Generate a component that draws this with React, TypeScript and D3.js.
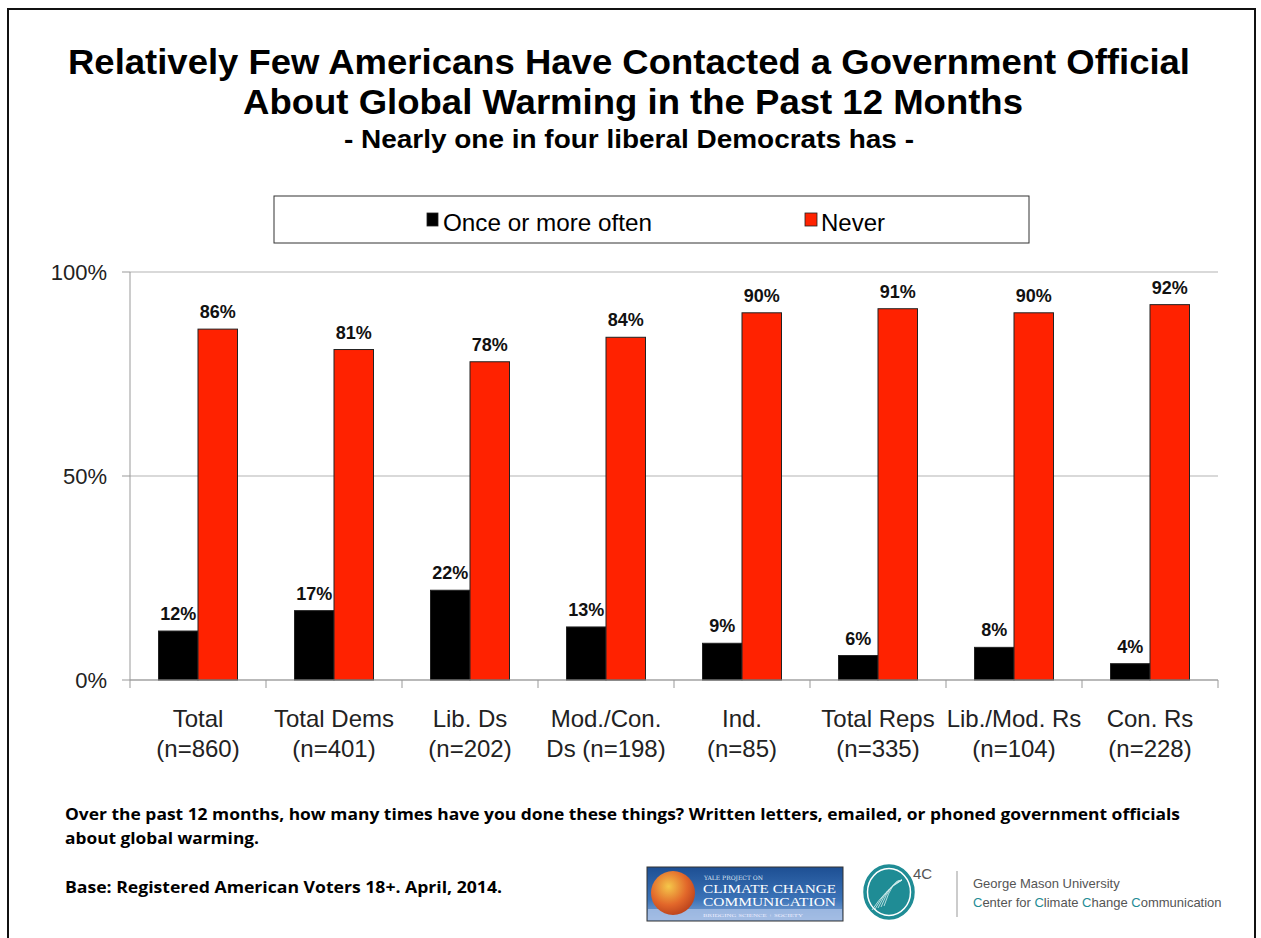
import React from "react";
import * as d3 from "d3";

const categories = ["Total", "Total Dems", "Lib. Ds", "Mod./Con.", "Ind.", "Total Reps", "Lib./Mod. Rs", "Con. Rs"];
const categorySub = ["(n=860)", "(n=401)", "(n=202)", "Ds (n=198)", "(n=85)", "(n=335)", "(n=104)", "(n=228)"];
const onceOrMore = [12, 17, 22, 13, 9, 6, 8, 4];
const never = [86, 81, 78, 84, 90, 91, 90, 92];
const yTicks = [0, 50, 100];
const seriesNames = ["Once or more often", "Never"];
const seriesColors = ["#000000", "#FF2200"];

const W = 1261;
const H = 938;
const plot = { left: 130, right: 1218, top: 272, bottom: 680 };
const FONT = "'Liberation Sans', Arial, Helvetica, sans-serif";
const FOOT = "'Open Sans', 'Liberation Sans', sans-serif";

export default function App() {
  const x = d3.scaleBand<string>().domain(categories).range([plot.left, plot.right]).paddingInner(0).paddingOuter(0);
  const y = d3.scaleLinear().domain([0, 100]).range([plot.bottom, plot.top]);
  const barW = 39.5;
  const series = [onceOrMore, never];

  return (
    <svg width={W} height={H} style={{ position: "absolute", left: 0, top: 0, background: "#fff" }} fontFamily={FONT}>
      <rect x={0} y={0} width={W} height={H} fill="#fff" />
      {/* slide frame */}
      <rect x={8} y={9} width={1247} height={H + 20} fill="none" stroke="#111" strokeWidth={2} />

      {/* title */}
      <text x={629} y={74} textAnchor="middle" fontSize={35} fontWeight="bold" fill="#000" textLength={1122} lengthAdjust="spacingAndGlyphs">
        Relatively Few Americans Have Contacted a Government Official
      </text>
      <text x={633} y={114} textAnchor="middle" fontSize={35} fontWeight="bold" fill="#000" textLength={780} lengthAdjust="spacingAndGlyphs">
        About Global Warming in the Past 12 Months
      </text>
      <text x={629} y={148} textAnchor="middle" fontSize={25} fontWeight="bold" fill="#000" textLength={570} lengthAdjust="spacingAndGlyphs">
        - Nearly one in four liberal Democrats has -
      </text>

      {/* legend */}
      <rect x={274} y={196} width={755} height={47} fill="#fff" stroke="#333" strokeWidth={1} />
      <rect x={427} y={213} width={11} height={13} fill={seriesColors[0]} stroke="#222" strokeWidth={0.8} />
      <text x={443} y={231} fontSize={24} fill="#000" textLength={209} lengthAdjust="spacingAndGlyphs">{seriesNames[0]}</text>
      <rect x={805} y={213} width={12} height={13} fill={seriesColors[1]} stroke="#222" strokeWidth={0.8} />
      <text x={821} y={231} fontSize={24} fill="#000">{seriesNames[1]}</text>

      {/* gridlines */}
      {yTicks.map((t) => (
        <line key={"g" + t} x1={plot.left} x2={plot.right} y1={y(t)} y2={y(t)} stroke="#b3b3b3" strokeWidth={1} />
      ))}
      {/* y axis */}
      <line x1={plot.left} x2={plot.left} y1={plot.top} y2={plot.bottom} stroke="#999" strokeWidth={1} />
      {yTicks.map((t) => (
        <g key={"y" + t}>
          <line x1={plot.left - 8} x2={plot.left} y1={y(t)} y2={y(t)} stroke="#999" />
          <text x={107} y={y(t) + 8} textAnchor="end" fontSize={22} fill="#222">{t}%</text>
        </g>
      ))}

      {/* bars */}
      {categories.map((c, i) => {
        const cx = (x(c) as number) + x.bandwidth() / 2;
        return (
          <g key={c}>
            {series.map((s, k) => {
              const bx = cx - barW + k * barW;
              return (
                <g key={k}>
                  <rect x={bx} y={y(s[i])} width={barW} height={plot.bottom - y(s[i])} fill={seriesColors[k]} stroke="#222" strokeWidth={1} />
                  <text x={bx + barW / 2} y={y(s[i]) - 11} textAnchor="middle" fontSize={18} fontWeight="bold" fill="#111">
                    {s[i]}%
                  </text>
                </g>
              );
            })}
          </g>
        );
      })}

      {/* x axis */}
      <line x1={plot.left} x2={plot.right} y1={plot.bottom} y2={plot.bottom} stroke="#999" strokeWidth={1} />
      {categories.map((c, i) => (
        <line key={"t" + i} x1={x(c) as number} x2={x(c) as number} y1={plot.bottom} y2={plot.bottom + 8} stroke="#999" />
      ))}
      <line x1={plot.right} x2={plot.right} y1={plot.bottom} y2={plot.bottom + 8} stroke="#999" />
      {categories.map((c, i) => {
        const cx = (x(c) as number) + x.bandwidth() / 2;
        return (
          <g key={"l" + i}>
            <text x={cx} y={727} textAnchor="middle" fontSize={24} fill="#222">{c}</text>
            <text x={cx} y={757} textAnchor="middle" fontSize={24} fill="#222">{categorySub[i]}</text>
          </g>
        );
      })}

      {/* footer */}
      <text x={65} y={820} fontFamily={FOOT} fontSize={16} fontWeight="bold" fill="#000" textLength={1115} lengthAdjust="spacingAndGlyphs">
        Over the past 12 months, how many times have you done these things? Written letters, emailed, or phoned government officials
      </text>
      <text x={65} y={844} fontFamily={FOOT} fontSize={16} fontWeight="bold" fill="#000" textLength={194} lengthAdjust="spacingAndGlyphs">
        about global warming.
      </text>
      <text x={65} y={893} fontFamily={FOOT} fontSize={16} fontWeight="bold" fill="#000" textLength={437} lengthAdjust="spacingAndGlyphs">
        Base: Registered American Voters 18+. April, 2014.
      </text>

      {/* Yale logo */}
      <defs>
        <linearGradient id="yaleBg" x1="0" y1="0" x2="0" y2="1">
          <stop offset="0" stopColor="#1d4f93" />
          <stop offset="0.6" stopColor="#3b73b8" />
          <stop offset="1" stopColor="#8fb0dc" />
        </linearGradient>
        <radialGradient id="globe" cx="0.4" cy="0.35" r="0.7">
          <stop offset="0" stopColor="#f5c74a" />
          <stop offset="0.6" stopColor="#e2672a" />
          <stop offset="1" stopColor="#b8401c" />
        </radialGradient>
      </defs>
      <rect x={647} y={867} width={196} height={54} fill="url(#yaleBg)" stroke="#333" strokeWidth={1} />
      <rect x={648} y={909} width={194} height={11} fill="#a9c0e6" opacity={0.8} />
      <circle cx={673} cy={893} r={22} fill="url(#globe)" />
      <text x={704} y={880} fontFamily="'DejaVu Serif', serif" fontSize={6} fill="#dfe8f5">YALE PROJECT ON</text>
      <text x={703} y={893} fontFamily="'Liberation Serif', serif" fontSize={11.5} fill="#fff" textLength={133} lengthAdjust="spacingAndGlyphs">CLIMATE CHANGE</text>
      <text x={703} y={906} fontFamily="'Liberation Serif', serif" fontSize={11.5} fill="#fff" textLength={133} lengthAdjust="spacingAndGlyphs">COMMUNICATION</text>
      <text x={703} y={917} fontFamily="'Liberation Serif', serif" fontSize={5} fill="#eef" textLength={100} lengthAdjust="spacingAndGlyphs">BRIDGING SCIENCE + SOCIETY</text>

      {/* 4C logo */}
      <ellipse cx={889} cy={892} rx={25} ry={27} fill="#1f8c95" stroke="#1f8c95" strokeWidth={1.5} />
      <ellipse cx={889} cy={892} rx={21.5} ry={23.5} fill="none" stroke="#ffffff" strokeWidth={1.5} />
      {[0, 1, 2, 3, 4].map((k) => (
        <path key={k} d={`M ${872 + k * 3} ${910 - k} Q ${885 + k * 2} ${890 - k * 3} ${902} ${880}`} fill="none" stroke="#d9f0f0" strokeWidth={1} opacity={0.8} />
      ))}
      <text x={913} y={879} fontSize={15} fill="#555">4C</text>
      <line x1={957} x2={957} y1={871} y2={917} stroke="#bbb" strokeWidth={1.5} />
      <text x={973} y={888} fontSize={13} fill="#555">George Mason University</text>
      <text x={973} y={907} fontSize={13} fill="#555">
        <tspan fill="#1f8c95">C</tspan>enter for <tspan fill="#1f8c95">C</tspan>limate <tspan fill="#1f8c95">C</tspan>hange <tspan fill="#1f8c95">C</tspan>ommunication
      </text>
    </svg>
  );
}
